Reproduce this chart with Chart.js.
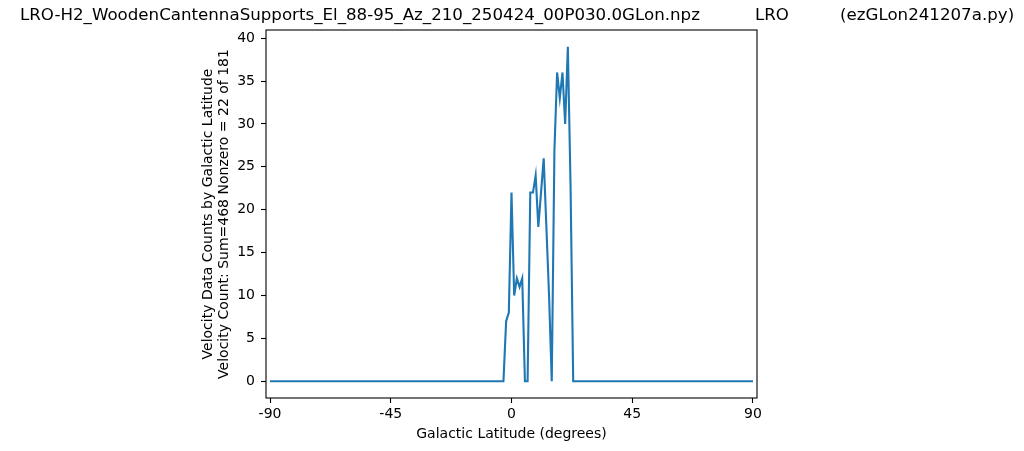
<!DOCTYPE html>
<html>
<head>
<meta charset="utf-8">
<script src="https://cdn.jsdelivr.net/npm/chart.js@4"></script>
<style>
  body { margin: 0; background: #fff; }
</style>
</head>
<body>
<canvas id="chart1" width="1024" height="451"></canvas>
<script>
// counts per degree of galactic latitude, -90 .. 90
var counts = [
  0, 0, 0, 0, 0, 0, 0, 0, 0, 0,   // -90 .. -81
  0, 0, 0, 0, 0, 0, 0, 0, 0, 0,   // -80 .. -71
  0, 0, 0, 0, 0, 0, 0, 0, 0, 0,   // -70 .. -61
  0, 0, 0, 0, 0, 0, 0, 0, 0, 0,   // -60 .. -51
  0, 0, 0, 0, 0, 0, 0, 0, 0, 0,   // -50 .. -41
  0, 0, 0, 0, 0, 0, 0, 0, 0, 0,   // -40 .. -31
  0, 0, 0, 0, 0, 0, 0, 0, 0, 0,   // -30 .. -21
  0, 0, 0, 0, 0, 0, 0, 0, 0, 0,   // -20 .. -11
  0, 0, 0, 0, 0, 0, 0, 0, 7, 8,   // -10 .. -1
  22, 10, 12, 11, 12, 0, 0, 22, 22, 24, // 0 .. 9
  18, 22, 26, 18, 10, 0, 27, 36, 33, 36, // 10 .. 19
  30, 39, 23, 0, 0, 0, 0, 0, 0, 0,   // 20 .. 29
  0, 0, 0, 0, 0, 0, 0, 0, 0, 0,   // 30 .. 39
  0, 0, 0, 0, 0, 0, 0, 0, 0, 0,   // 40 .. 49
  0, 0, 0, 0, 0, 0, 0, 0, 0, 0,   // 50 .. 59
  0, 0, 0, 0, 0, 0, 0, 0, 0, 0,   // 60 .. 69
  0, 0, 0, 0, 0, 0, 0, 0, 0, 0,   // 70 .. 79
  0, 0, 0, 0, 0, 0, 0, 0, 0, 0,   // 80 .. 89
  0                               // 90
];
var latitudes = [];
for (var i = 0; i < counts.length; i++) latitudes.push(i - 90);

var xTicks = [-90, -45, 0, 45, 90];
var yTicks = [0, 5, 10, 15, 20, 25, 30, 35, 40];

var titleMain = "LRO-H2_WoodenCantennaSupports_El_88-95_Az_210_250424_00P030.0GLon.npz";
var titleMid = "LRO";
var titleRight = "(ezGLon241207a.py)";
var xTitle = "Galactic Latitude (degrees)";
var yTitle1 = "Velocity Data Counts by Galactic Latitude";
var yTitle2 = "Velocity Count: Sum=468 Nonzero = 22 of 181";

var font = "DejaVu Sans";

var points = latitudes.map(function(d, i) { return { x: d, y: counts[i] }; });

// titles, axis labels and the box around the plot
var textPlugin = {
  id: "texts",
  afterDraw: function(chart) {
    var ctx = chart.ctx;
    var a = chart.chartArea;
    ctx.save();
    ctx.strokeStyle = "#000";
    ctx.lineWidth = 1.1;
    ctx.strokeRect(a.left, a.top, a.right - a.left, a.bottom - a.top);

    ctx.fillStyle = "#000";
    ctx.textBaseline = "middle";
    ctx.font = "16.67px '" + font + "'";
    ctx.textAlign = "left";
    ctx.fillText(titleMain, 20, 16);
    ctx.fillText(titleMid, 755, 16);
    ctx.fillText(titleRight, 840, 16);

    ctx.font = "14px '" + font + "'";
    ctx.textAlign = "center";
    ctx.fillText(xTitle, (a.left + a.right) / 2, 434);

    ctx.translate(0, (a.top + a.bottom) / 2);
    ctx.rotate(-Math.PI / 2);
    ctx.fillText(yTitle1, 0, 208);
    ctx.fillText(yTitle2, 0, 224);
    ctx.restore();
  }
};

var ctx = document.getElementById("chart1");
var chart = new Chart(ctx, {
  type: "line",
  data: {
    datasets: [{
      data: points,
      borderColor: "#1f77b4",
      borderWidth: 2.1,
      pointRadius: 0,
      fill: false,
      tension: 0
    }]
  },
  options: {
    responsive: false,
    animation: false,
    layout: { padding: { left: 0, right: 267, top: 30, bottom: 0 } },
    plugins: {
      legend: { display: false },
      tooltip: { enabled: false }
    },
    scales: {
      x: {
        type: "linear",
        min: -91.5,
        max: 91.5,
        afterBuildTicks: function(scale) {
          scale.ticks = xTicks.map(function(v) { return { value: v }; });
        },
        afterFit: function(scale) { scale.height = 53; },
        grid: { drawOnChartArea: false, tickLength: 5, color: "#000", tickWidth: 1.1 },
        border: { display: false },
        ticks: {
          color: "#000",
          padding: 3,
          maxRotation: 0,
          font: { family: font, size: 14 },
          callback: function(v) { return String(v); }
        }
      },
      y: {
        min: -1.95,
        max: 40.95,
        afterBuildTicks: function(scale) {
          scale.ticks = yTicks.map(function(v) { return { value: v }; });
        },
        afterFit: function(scale) { scale.width = 266; },
        grid: { drawOnChartArea: false, tickLength: 5, color: "#000", tickWidth: 1.1 },
        border: { display: false },
        ticks: {
          color: "#000",
          padding: 6,
          font: { family: font, size: 14 },
          callback: function(v) { return String(v); }
        }
      }
    }
  },
  plugins: [textPlugin]
});
</script>
</body>
</html>
